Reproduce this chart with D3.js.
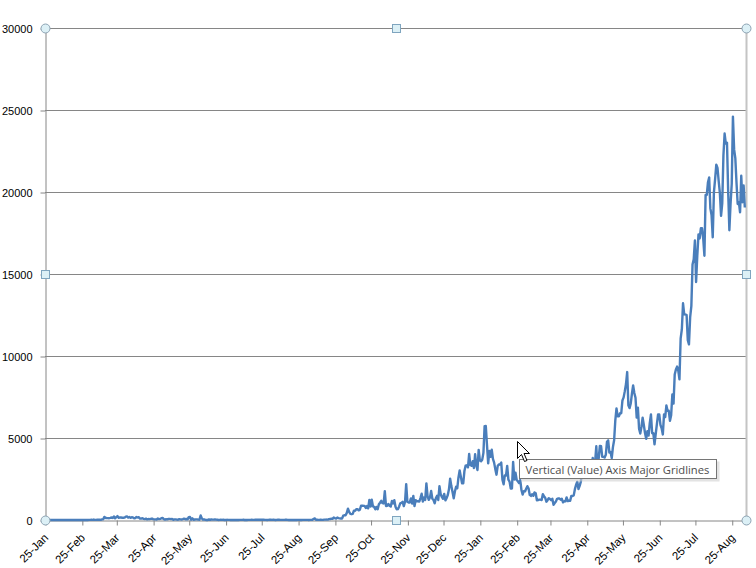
<!DOCTYPE html>
<html>
<head>
<meta charset="utf-8">
<script src="https://cdn.jsdelivr.net/npm/d3@7"></script>
<style>
  html, body { margin: 0; padding: 0; background: #ffffff; }
  svg { display: block; }
</style>
</head>
<body>
<div class="chart"></div>
<script>
// Daily new cases, one array per month, first value is 25 Jan 2020
const jan2020 = [3, 1, 0, 0, 3, 0, 1];
const feb2020 = [0, 0, 0, 2, 2, 2, 2, 0, 1, 0, 0, 0, 0, 0, 3, 0, 0, 0, 0, 0, 0, 0, 0, 0, 0, 0, 1, 2, 0];
const mar2020 = [0, 5, 7, 14, 5, 28, 5, 6, 18, 12, 20, 9, 41, 41, 190, 125, 120, 117, 110, 130, 153, 123, 212, 106, 172, 235, 130, 159, 150, 140, 140];
const apr2020 = [142, 208, 217, 150, 179, 131, 170, 156, 109, 118, 184, 153, 170, 85, 85, 110, 69, 54, 84, 36, 57, 50, 71, 88, 51, 38, 40, 31, 94, 57];
const may2020 = [69, 105, 122, 55, 30, 45, 39, 68, 67, 54, 70, 16, 36, 40, 22, 17, 47, 37, 31, 50, 78, 48, 60, 37, 172, 187, 15, 103, 10, 30, 38];
const jun2020 = [38, 20, 19, 277, 93, 19, 37, 7, 2, 3, 31, 8, 37, 22, 22, 41, 25, 19, 4, 10, 15, 6, 16, 3, 4, 11, 6, 5, 3, 4];
const jul2020 = [3, 2, 4, 6, 3, 2, 9, 8, 5, 13, 3, 8, 4, 6, 10, 8, 11, 6, 9, 18, 15, 15, 14, 23, 18, 19, 22, 7, 7, 3, 6];
const aug2020 = [19, 22, 7, 14, 11, 3, 11, 18, 14, 10, 5, 10, 7, 14, 25, 5, 4, 3, 9, 4, 4, 8, 3, 4, 7, 7, 3, 4, 5, 5, 6];
const sep2020 = [6, 5, 1, 6, 7, 10, 62, 100, 12, 15, 8, 8, 24, 8, 9, 25, 24, 26, 21, 52, 57, 82, 71, 147, 111, 85, 150, 115, 101, 89];
const oct2020 = [89, 260, 287, 293, 432, 691, 489, 374, 354, 374, 561, 563, 660, 660, 589, 629, 869, 871, 865, 862, 732, 847, 710, 1228, 823, 1240, 835, 801, 649, 799, 659];
const nov2020 = [957, 1054, 1168, 1032, 1009, 1755, 852, 869, 972, 869, 822, 1162, 1009, 1208, 809, 650, 660, 815, 1012, 1041, 1109, 848, 1100, 2188, 1109, 1070, 1070, 1315, 1000, 1472];
const dec2020 = [851, 1212, 1141, 1141, 1123, 1335, 1600, 1123, 1370, 1222, 2234, 1438, 1229, 1371, 1772, 1295, 1220, 1018, 1340, 1472, 1220, 2062, 1586, 1406, 1293, 1594, 1196, 1334, 1527, 1870, 2525];
const jan2021 = [2068, 1704, 1328, 1741, 2027, 1939, 2593, 3027, 2643, 2243, 2232, 2985, 3309, 3337, 3211, 4029, 3350, 3306, 3585, 3170, 4008, 3346, 3048, 4275, 3631, 3585, 3680, 4094, 5725, 5728, 4571];
const feb2021 = [3455, 4214, 3847, 4284, 3731, 3499, 3100, 2764, 3288, 3384, 3387, 3499, 2464, 2176, 2720, 2712, 3297, 2461, 2340, 1923, 1924, 3545, 2468, 2888, 2437, 2364, 2253, 2437];
const mar2021 = [1828, 1555, 1760, 1745, 1900, 2063, 1919, 1529, 1470, 1575, 1477, 1680, 1631, 1208, 1219, 1245, 1242, 1213, 1575, 1439, 1354, 1116, 1209, 1329, 1280, 1205, 1293, 926, 1035, 1130, 1291];
const apr2021 = [1309, 1310, 1236, 1291, 1077, 1139, 1139, 1380, 1153, 1170, 1176, 1470, 1466, 1501, 1879, 2148, 2331, 1889, 2078, 2340, 2875, 2776, 2973, 3122, 2669, 2888, 3190, 3142, 3332, 3788];
const may2021 = [3418, 3551, 4498, 3120, 3744, 4519, 4498, 3848, 3848, 3807, 3973, 4765, 4855, 4113, 4140, 3780, 4446, 4865, 6075, 6806, 6320, 6320, 6509, 6509, 7289, 7478, 7857, 8290, 9020, 6999, 6824];
const jun2021 = [7105, 7703, 8209, 7748, 7452, 6241, 6849, 5566, 5271, 5671, 6239, 5793, 5304, 4949, 5419, 5150, 5911, 6440, 5293, 5293, 4611, 5244, 5841, 6440, 6437, 5803, 5586, 5218, 6437, 6276];
const jul2021 = [6982, 6658, 6658, 6045, 6387, 7654, 7097, 8868, 9180, 9353, 9105, 8574, 11079, 11618, 13215, 12541, 12528, 12510, 10972, 10710, 12366, 13034, 15573, 15902, 17045, 14516, 16117, 17405, 17170, 17786, 17786];
const aug2021 = [17150, 16117, 19819, 19819, 20596, 20889, 19000, 18600, 17236, 19991, 20780, 21668, 21468, 20670, 19949, 18547, 19307, 22242, 23564, 22948, 23000, 20000, 17672, 19268, 20500, 24599, 22597, 22070, 20579, 19268, 19378];
const sep2021 = [18762, 20988, 19378, 20396, 19057];

// Axis values
const yTicks = [0, 5000, 10000, 15000, 20000, 25000, 30000];
const monthCount = 20; // 25-Jan 2020 .. 25-Aug 2021
const tooltipText = 'Vertical (Value) Axis Major Gridlines';

// Variables
const width = 756;
const height = 568;
const plotLeft = 45;
const plotRight = 746;
const plotTop = 28;
const plotBottom = 520;

// Colors
const lineBlue = '#4a7ebb';
const gridGrey = '#868686';
const handleFill = '#dcf0f6';
const handleStroke = '#8da3b3';

const startDate = new Date(Date.UTC(2020, 0, 25));
const series = [].concat(jan2020, feb2020, mar2020, apr2020, may2020, jun2020, jul2020, aug2020,
  sep2020, oct2020, nov2020, dec2020, jan2021, feb2021, mar2021, apr2021, may2021, jun2021,
  jul2021, aug2021, sep2021);
const data = series.map((v, i) => ({date: d3.utcDay.offset(startDate, i), value: v}));
const tickDates = d3.range(monthCount).map(i => d3.utcMonth.offset(startDate, i));

// Scales
const x = d3.scaleUtc()
  .domain([startDate, d3.utcDay.offset(startDate, series.length)])
  .range([plotLeft, plotRight]);
const y = d3.scaleLinear()
  .domain([0, 30000])
  .range([plotBottom, plotTop]);

const svg = d3.select('.chart').append('svg')
  .attr('width', width)
  .attr('height', height)
  .style('font-family', '"Liberation Sans", Arial, sans-serif');

// Gridlines
svg.append('g')
  .attr('class', 'grid')
  .attr('stroke', gridGrey)
  .attr('stroke-width', 1)
  .selectAll('line')
  .data(yTicks.filter(d => d > 0))
  .join('line')
  .attr('x1', plotLeft)
  .attr('x2', plotRight)
  .attr('y1', d => Math.round(y(d)) + 0.5)
  .attr('y2', d => Math.round(y(d)) + 0.5);

// Plot area frame on the right (selected)
svg.append('line')
  .attr('x1', plotRight + 0.5)
  .attr('x2', plotRight + 0.5)
  .attr('y1', plotTop)
  .attr('y2', plotBottom)
  .attr('stroke', '#c4c4c4')
  .attr('stroke-width', 2);

// Axes
const yAxis = svg.append('g')
  .attr('transform', `translate(${plotLeft + 0.5},0.5)`)
  .call(d3.axisLeft(y).tickValues(yTicks).tickFormat(d3.format('d')).tickSizeInner(5).tickSizeOuter(0).tickPadding(8));
yAxis.select('.domain').attr('stroke', gridGrey);
yAxis.selectAll('.tick line').attr('stroke', gridGrey);
yAxis.selectAll('.tick text')
  .attr('fill', '#000')
  .style('font-size', '11px');

const xAxis = svg.append('g')
  .attr('transform', `translate(0.5,${plotBottom + 0.5})`)
  .call(d3.axisBottom(x).tickValues(tickDates).tickFormat(d3.utcFormat('%d-%b')).tickSizeInner(5).tickSizeOuter(0));
xAxis.select('.domain').attr('stroke', gridGrey);
xAxis.selectAll('.tick line').attr('stroke', gridGrey);
xAxis.selectAll('.tick text')
  .attr('fill', '#000')
  .attr('x', 0)
  .attr('y', 0)
  .attr('dy', 0)
  .attr('transform', 'translate(3,18) rotate(-45)')
  .style('text-anchor', 'end')
  .style('font-size', '11.5px');

// Line
const line = d3.line()
  .x(d => x(d.date))
  .y(d => y(d.value));

svg.append('path')
  .datum(data)
  .attr('fill', 'none')
  .attr('stroke', lineBlue)
  .attr('stroke-width', 2.4)
  .attr('stroke-linejoin', 'round')
  .attr('d', line);

// Selection handles
const midX = (plotLeft + plotRight) / 2;
const midY = (plotTop + plotBottom) / 2;
const corners = [[plotLeft, plotTop], [plotRight, plotTop], [plotLeft, plotBottom], [plotRight, plotBottom]];
const edges = [[midX, plotTop], [plotLeft, midY], [plotRight, midY], [midX, plotBottom]];
svg.append('g')
  .selectAll('circle')
  .data(corners)
  .join('circle')
  .attr('cx', d => d[0] + 0.5)
  .attr('cy', d => d[1] + 0.5)
  .attr('r', 4.5)
  .attr('fill', handleFill)
  .attr('stroke', handleStroke);
svg.append('g')
  .selectAll('rect')
  .data(edges)
  .join('rect')
  .attr('x', d => Math.round(d[0]) - 3.5)
  .attr('y', d => Math.round(d[1]) - 3.5)
  .attr('width', 8)
  .attr('height', 8)
  .attr('fill', handleFill)
  .attr('stroke', '#7fa5bf');

// Tooltip
const tip = svg.append('g')
  .attr('transform', 'translate(519.5,459.5)');
tip.append('rect')
  .attr('x', 2)
  .attr('y', 2)
  .attr('width', 198)
  .attr('height', 20)
  .attr('fill', '#d0d0d0')
  .attr('opacity', 0.6);
tip.append('rect')
  .attr('width', 197)
  .attr('height', 19)
  .attr('fill', '#ffffff')
  .attr('stroke', '#767676');
tip.append('text')
  .attr('x', 6)
  .attr('y', 14)
  .attr('fill', '#4d4d4d')
  .style('font-family', '"Open Sans", "Noto Sans", sans-serif')
  .style('font-size', '11.2px')
  .text(tooltipText);

// Mouse pointer
svg.append('path')
  .attr('d', 'M517.5,441.5 L517.5,458.5 L521.5,454.5 L524.5,461.5 L527,460.5 L524,453.5 L529.5,453.5 Z')
  .attr('fill', '#ffffff')
  .attr('stroke', '#000000')
  .attr('stroke-width', 1);
</script>
</body>
</html>
